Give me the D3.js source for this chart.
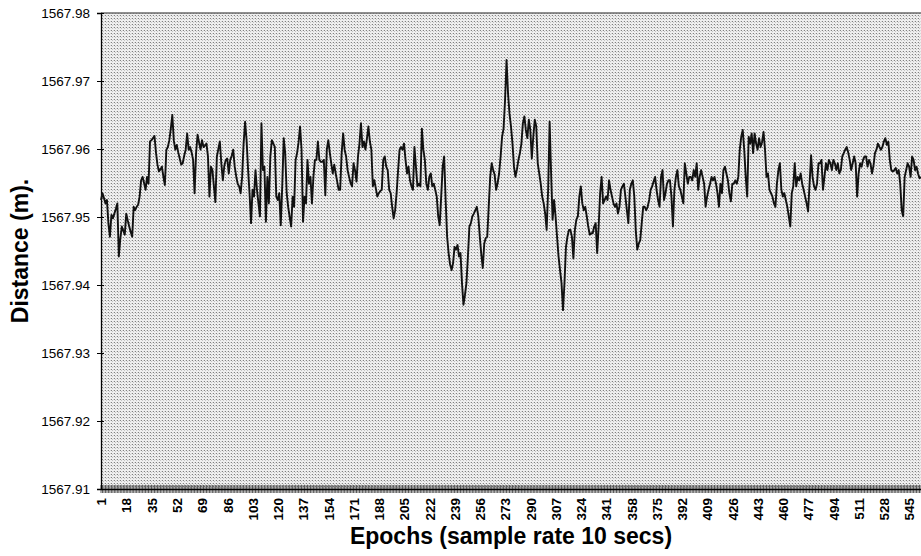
<!DOCTYPE html>
<html>
<head>
<meta charset="utf-8">
<script src="https://cdn.jsdelivr.net/npm/d3@7"></script>
<style>
  body { margin: 0; background: #fff; }
  svg text { font-family: "Liberation Sans", Arial, sans-serif; fill: #000; }
</style>
</head>
<body>
<div id="chart"></div>
<script>
// distance readings, in mm above 1567.900 m, one per epoch
var base = 1567.9;
var segA = [52.5,53.5,52.8,52.0,52.5,49.0,47.1,50.3,49.8,50.5,51.2,52.0,44.2,46.8,48.6,48.0,47.4,50.5,49.5,48.6,
  47.8,47.1,51.5,51.0,51.5,51.8,53.0,55.4,55.9,55.0,54.0,55.9,54.9,61.1,61.3,61.6,61.9,59.5,57.7,56.7,
  57.0,57.4,55.9,54.7,59.9,60.3,61.3,63.0,65.0,61.3,59.9,60.6,59.5,58.6,57.7,57.9,59.0,59.9,62.3,59.9,
  60.3,59.5,58.4,53.5,59.4,62.1,61.0,59.9,61.3,60.3,60.5,60.8,58.9,53.0,57.4,56.9,54.5,52.2,58.9,60.0,
  61.1,57.9,55.4,57.5,58.4,58.6,56.4,58.4,59.0,59.9,57.4,56.0,54.9,54.5,53.5,55.9,60.8,64.0,61.3,57.0,
  53.5,49.1,54.0,53.0,56.9,54.0,52.0,50.1,63.8,56.9,57.4,49.3,55.9,52.0,58.9,61.3,60.8,60.3,53.0,52.5,
  53.5,48.8,54.5,61.6,59.4,53.5,51.5,50.0,48.6,53.0,51.5,58.4,59.4,61.0,63.3,59.9,49.3,53.0,52.0,58.4];
var segB = [54.9,55.9,52.0,55.9,58.4,58.4,61.1,58.4,58.1,58.1,58.4,53.2,59.9,61.3,59.5,57.9,56.4,57.7,56.4,55.2,
  54.0,54.0,59.4,62.3,59.9,58.9,56.9,55.9,55.0,54.5,57.9,56.9,55.2,58.9,60.8,63.8,60.3,61.1,59.9,61.5,
  63.3,61.1,59.9,54.5,55.4,54.2,53.0,53.5,53.8,54.0,58.4,58.9,57.4,56.9,54.0,53.5,51.5,49.8,51.0,53.5,
  56.9,59.9,60.3,59.9,60.8,58.4,56.4,57.4,55.4,54.5,54.0,60.3,57.4,54.5,54.9,54.5,63.0,59.9,58.4,54.9,
  54.0,55.9,56.4,54.5,54.9,54.0,53.0,50.1,48.8,53.0,57.4,58.9,52.5,47.1,44.7,43.0,42.2,43.2,45.6,45.2,
  45.9,44.2,44.7,40.3,37.1,38.5,40.3,44.2,48.6,49.1,50.1,50.5,51.0,51.5,50.1,47.1,44.5,42.5,46.1,46.9,
  47.1,51.5,55.9,57.9,56.9,56.2,54.0,55.0,56.4,58.9,61.8,63.0,67.2,73.1,68.2,65.2,63.3,60.8];
var segC = [57.4,55.9,57.0,58.4,59.4,60.8,63.8,64.8,62.8,61.6,64.3,62.8,58.6,61.8,64.3,63.3,57.9,56.4,54.9,53.0,
  52.0,50.5,48.1,54.0,64.0,56.4,49.6,52.5,50.1,47.1,44.2,42.2,40.3,36.3,40.3,45.6,47.1,48.1,48.1,47.1,
  43.9,48.1,49.6,50.1,53.0,54.5,52.0,51.0,51.5,50.1,48.6,47.4,47.6,47.6,48.6,49.1,44.7,48.6,53.5,55.9,
  52.0,52.5,53.0,52.5,55.4,54.0,53.0,52.0,51.5,52.0,50.5,51.5,54.0,54.5,54.9,53.0,51.0,49.1,54.0,54.9,
  55.4,53.0,48.0,45.2,46.1,46.6,49.1,51.5,51.5,51.0,51.5,52.5,54.0,54.5,55.2,55.9,54.0,52.5,51.5,55.9,
  56.9,52.5,53.5,54.9,55.4,55.4,53.0,48.6,54.0,55.9,56.9,54.5,54.0,53.0,52.0,57.9,56.4,54.9,55.9,55.9,
  55.4,56.9,55.9,57.9,54.0,55.9,56.9,55.9,54.9,51.5,53.0,54.0,54.9,55.9,55.4,55.9,54.9,53.5];
var segD = [51.5,54.9,53.5,56.9,57.4,56.4,55.4,53.5,52.3,54.9,54.9,55.4,54.9,55.9,59.9,61.8,62.8,59.9,55.9,53.0,
  61.8,60.8,62.3,59.4,62.3,60.8,59.9,61.6,60.3,61.0,62.5,59.9,55.9,56.4,54.0,53.5,53.0,52.0,51.5,54.9,
  56.9,57.9,54.0,53.0,53.5,52.5,51.5,50.1,48.6,53.5,54.5,57.9,54.5,55.9,55.4,56.4,54.9,54.0,53.0,52.0,
  50.8,54.9,59.1,55.9,54.5,54.0,54.9,57.9,57.9,58.4,54.0,55.9,57.9,56.9,58.4,57.9,56.9,58.4,57.9,56.9,
  57.9,56.4,56.9,58.9,59.4,59.9,60.3,59.5,58.4,56.9,57.9,58.9,57.9,53.0,56.4,57.9,57.4,58.4,58.9,58.9,
  57.4,58.4,57.9,56.4,57.5,59.4,59.9,60.8,60.3,59.9,60.3,61.1,61.6,60.6,61.1,58.4,56.9,56.7,56.9,57.2,
  56.4,56.9,54.9,51.0,50.1,55.9,56.9,57.9,57.4,55.9,58.9,58.4,56.9,57.4,56.4,55.7,55.9];

var yTicks = [1567.91, 1567.92, 1567.93, 1567.94, 1567.95, 1567.96, 1567.97, 1567.98];
var xTicks = d3.range(1, 553, 17);

var data = segA.concat(segB, segC, segD).map(function (d, i) {
  return { epoch: i + 1, value: base + d / 1000 };
});

var width = 921, height = 556;
var margin = { top: 13, right: 0, bottom: 67, left: 101 };

var svg = d3.select("#chart").append("svg")
    .attr("width", width)
    .attr("height", height);

var x = d3.scaleLinear()
    .domain([1, data.length])
    .range([margin.left, width - margin.right]);

var y = d3.scaleLinear()
    .domain([1567.91, 1567.98])
    .range([height - margin.bottom, margin.top]);

// stippled plot background
var defs = svg.append("defs");
var pat = defs.append("pattern")
    .attr("id", "stipple")
    .attr("width", 3).attr("height", 3)
    .attr("patternUnits", "userSpaceOnUse");
pat.append("rect").attr("width", 3).attr("height", 3).attr("fill", "#efefef");
pat.append("rect").attr("width", 1).attr("height", 1).attr("fill", "#808080");
pat.append("rect").attr("x", 1).attr("y", 1).attr("width", 1).attr("height", 1).attr("fill", "#c4c4c4");
pat.append("rect").attr("x", 2).attr("y", 0).attr("width", 1).attr("height", 1).attr("fill", "#d8d8d8");

svg.append("rect")
    .attr("x", x.range()[0])
    .attr("y", y.range()[1])
    .attr("width", x.range()[1] - x.range()[0])
    .attr("height", y.range()[0] - y.range()[1])
    .attr("fill", "url(#stipple)");

// top frame line
svg.append("line")
    .attr("x1", x.range()[0]).attr("x2", x.range()[1])
    .attr("y1", y.range()[1]).attr("y2", y.range()[1])
    .style("stroke", "#222")
    .style("stroke-width", 1.2);

// category tick marks for every epoch (dark band along the bottom)
svg.append("g")
  .selectAll("line")
  .data(data).enter()
  .append("line")
    .attr("x1", function (d) { return x(d.epoch); })
    .attr("x2", function (d) { return x(d.epoch); })
    .attr("y1", y.range()[0] - 4)
    .attr("y2", y.range()[0] + 4)
    .style("stroke", "#4a4a4a")
    .style("stroke-width", 0.9);

// y axis
var yAxis = svg.append("g")
    .attr("transform", "translate(" + margin.left + ",0)")
    .call(d3.axisLeft(y)
      .tickValues(yTicks)
      .tickFormat(d3.format(".2f"))
      .tickSize(4)
      .tickPadding(7));
yAxis.select(".domain").style("stroke", "#000").style("stroke-width", 1.3);
yAxis.selectAll(".tick line").attr("x1", 3).style("stroke", "#000");
yAxis.selectAll("text")
    .style("font-size", "13.5px")
    .attr("fill", "#000");

// x axis
var xAxis = svg.append("g")
    .attr("transform", "translate(0," + y.range()[0] + ")")
    .call(d3.axisBottom(x).tickValues(xTicks).tickSize(0));
xAxis.select(".domain").style("stroke", "#000").style("stroke-width", 1.3);
xAxis.selectAll("text")
    .attr("transform", "rotate(-90)")
    .attr("x", -9)
    .attr("y", 0)
    .attr("dy", "0.35em")
    .style("text-anchor", "end")
    .style("font-size", "13.5px")
    .style("font-weight", "bold")
    .attr("fill", "#000");

// series
var line = d3.line()
    .x(function (d) { return x(d.epoch); })
    .y(function (d) { return y(d.value); });

svg.append("path")
    .datum(data)
    .attr("d", line)
    .style("fill", "none")
    .style("stroke", "#111")
    .style("stroke-width", 1.9)
    .style("stroke-linejoin", "round");

// axis titles
svg.append("text")
    .attr("x", (x.range()[0] + x.range()[1]) / 2)
    .attr("y", 544)
    .attr("text-anchor", "middle")
    .style("font-size", "23px")
    .style("font-weight", "bold")
    .text("Epochs (sample rate 10 secs)");

svg.append("text")
    .attr("transform", "translate(28," + ((y.range()[0] + y.range()[1]) / 2) + ") rotate(-90)")
    .attr("text-anchor", "middle")
    .style("font-size", "23px")
    .style("font-weight", "bold")
    .text("Distance (m).");
</script>
</body>
</html>
